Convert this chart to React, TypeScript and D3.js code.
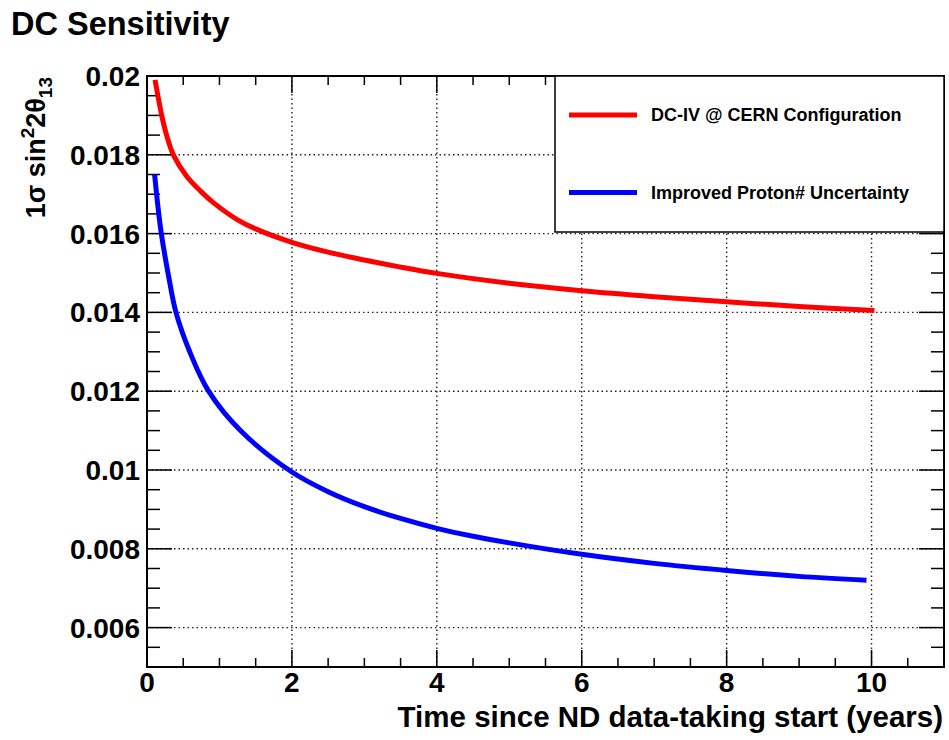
import React from "react";
import * as d3 from "d3";

// sensitivity vs. time
const redX = [0.111, 0.203, 0.27, 0.364, 0.55, 0.75, 0.92, 1.25, 1.5, 2.0, 2.5, 3.0, 3.5, 4.0, 5.0, 6.0, 7.0, 8.0, 9.0, 10.04];
const redY = [0.0199, 0.019, 0.0185, 0.018, 0.01745, 0.01706, 0.01678, 0.01635, 0.01612, 0.01578, 0.01553, 0.01533, 0.01515, 0.01499, 0.01474, 0.01455, 0.0144, 0.01427, 0.01415, 0.01405];

const blueX = [0.105, 0.19, 0.3, 0.4, 0.59, 0.85, 1.29, 2.0, 2.5, 3.0, 3.5, 4.0, 4.5, 5.0, 6.0, 7.0, 8.0, 9.0, 9.93];
const blueY = [0.0175, 0.0161, 0.0149, 0.014, 0.013, 0.012, 0.011, 0.00995, 0.00945, 0.00907, 0.00877, 0.00852, 0.00832, 0.00815, 0.00786, 0.00763, 0.00745, 0.0073, 0.0072];

const xTicks = [0, 2, 4, 6, 8, 10];
const yTicks = [0.006, 0.008, 0.01, 0.012, 0.014, 0.016, 0.018, 0.02];
const yTickLabels = ["0.006", "0.008", "0.01", "0.012", "0.014", "0.016", "0.018", "0.02"];

const seriesNames = ["DC-IV @ CERN Configuration", "Improved Proton# Uncertainty"];
const seriesColors = ["#ff0000", "#0000ff"];

const W = 949;
const H = 740;
const left = 147, right = 944, top = 76, bottom = 667;
const FONT = "'Liberation Sans', Arial, Helvetica, sans-serif";

export default function App() {
  const x = d3.scaleLinear().domain([0, 11]).range([left, right]);
  const y = d3.scaleLinear().domain([0.005, 0.02]).range([bottom, top]);

  const line = d3
    .line<[number, number]>()
    .x(d => x(d[0]))
    .y(d => y(d[1]))
    .curve(d3.curveCatmullRom.alpha(0.5));

  const redPts = redX.map((v, i) => [v, redY[i]] as [number, number]);
  const bluePts = blueX.map((v, i) => [v, blueY[i]] as [number, number]);

  const xMinor = d3.range(0, 11.01, 0.5);
  const yMinor = d3.range(0.005, 0.02001, 0.0005);

  return (
    <div style={{ position: "absolute", left: 0, top: 0 }}>
      <svg width={W} height={H} style={{ display: "block", background: "#fff" }} fontFamily={FONT}>
        <text x={11} y={35} fontSize={32.5} fontWeight="bold">DC Sensitivity</text>

        {/* grid */}
        <g stroke="#222" strokeWidth={1.4} strokeDasharray="1.5,3">
          {xTicks.filter(t => t > 0).map(t => (
            <line key={"gx" + t} x1={x(t)} x2={x(t)} y1={top} y2={bottom} />
          ))}
          {yTicks.filter(t => t < 0.02).map(t => (
            <line key={"gy" + t} x1={left} x2={right} y1={y(t)} y2={y(t)} />
          ))}
        </g>

        {/* ticks */}
        <g stroke="#000" strokeWidth={1.5}>
          {xMinor.map(t => {
            const major = Math.abs(t / 2 - Math.round(t / 2)) < 1e-6;
            const len = major ? 17 : 9;
            return (
              <g key={"xt" + t}>
                <line x1={x(t)} x2={x(t)} y1={bottom} y2={bottom - len} />
                <line x1={x(t)} x2={x(t)} y1={top} y2={top + len} />
              </g>
            );
          })}
          {yMinor.map(t => {
            const major = Math.abs(t / 0.002 - Math.round(t / 0.002)) < 1e-6;
            const len = major ? 25 : 13;
            return (
              <g key={"yt" + t}>
                <line x1={left} x2={left + len} y1={y(t)} y2={y(t)} />
                <line x1={right} x2={right - len} y1={y(t)} y2={y(t)} />
              </g>
            );
          })}
        </g>

        <rect x={left} y={top} width={right - left} height={bottom - top} fill="none" stroke="#000" strokeWidth={2} />

        {/* legend */}
        <rect x={555} y={top} width={right - 555} height={156} fill="#fff" stroke="#000" strokeWidth={1.5} />
        {seriesNames.map((name, i) => (
          <g key={name}>
            <line x1={569} x2={637} y1={115 + i * 77.5} y2={115 + i * 77.5} stroke={seriesColors[i]} strokeWidth={5} />
            <text x={651} y={115 + i * 77.5} dy="0.35em" fontSize={18} fontWeight="bold">{name}</text>
          </g>
        ))}

        {/* curves */}
        <path d={line(redPts) || ""} fill="none" stroke={seriesColors[0]} strokeWidth={5} />
        <path d={line(bluePts) || ""} fill="none" stroke={seriesColors[1]} strokeWidth={5} />

        {/* tick labels */}
        <g fontSize={28} fontWeight="bold">
          {xTicks.map(t => (
            <text key={"xl" + t} x={x(t)} y={692} textAnchor="middle">{t}</text>
          ))}
          {yTicks.map((t, i) => (
            <text key={"yl" + t} x={140} y={y(t)} dy="0.36em" textAnchor="end">{yTickLabels[i]}</text>
          ))}
        </g>

        <text x={943} y={727} textAnchor="end" fontSize={29.5} fontWeight="bold">
          Time since ND data-taking start (years)
        </text>

        <text transform="translate(45,77) rotate(-90)" textAnchor="end" fontSize={27} fontWeight="bold">
          1σ sin<tspan fontSize={19} dy={-11}>2</tspan><tspan dy={11}>2θ</tspan><tspan fontSize={19} dy={7}>13</tspan>
        </text>
      </svg>
    </div>
  );
}
